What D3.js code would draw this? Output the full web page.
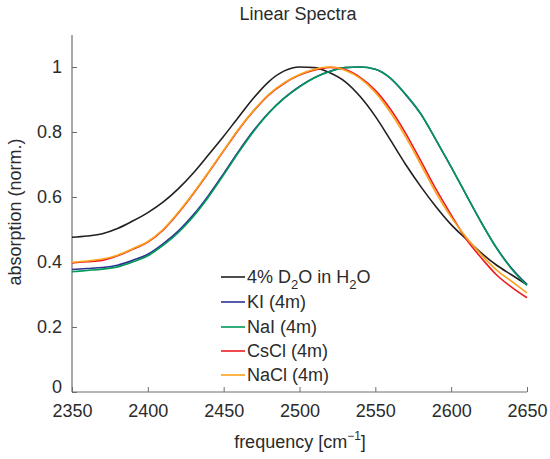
<!DOCTYPE html>
<html>
<head>
<meta charset="utf-8">
<script src="https://cdn.jsdelivr.net/npm/d3@7"></script>
<style>
  body { margin: 0; background: #fff; }
  svg { font-family: "Liberation Sans", Arial, Helvetica, sans-serif; }
</style>
</head>
<body>
<div id="chart"></div>
<script>
var freq = [2350, 2360, 2370, 2380, 2390, 2400, 2410, 2420, 2430, 2440, 2450,
  2460, 2470, 2480, 2490, 2500, 2510, 2520, 2530, 2540, 2550,
  2560, 2570, 2580, 2590, 2600, 2610, 2620, 2630, 2640, 2650];

var water = [0.476, 0.480, 0.487, 0.503, 0.526, 0.552, 0.584, 0.625, 0.674, 0.730, 0.787,
  0.847, 0.906, 0.956, 0.988, 1.000, 0.998, 0.982, 0.955, 0.909, 0.848,
  0.775, 0.700, 0.632, 0.570, 0.515, 0.470, 0.427, 0.390, 0.360, 0.330];
var ki = [0.377, 0.380, 0.383, 0.390, 0.405, 0.424, 0.456, 0.495, 0.545, 0.605, 0.672,
  0.742, 0.806, 0.861, 0.905, 0.940, 0.968, 0.987, 0.998, 1.000, 0.993,
  0.965, 0.915, 0.855, 0.775, 0.692, 0.606, 0.521, 0.443, 0.380, 0.331];
var nai = [0.370, 0.374, 0.378, 0.385, 0.400, 0.419, 0.451, 0.490, 0.540, 0.600, 0.668,
  0.738, 0.803, 0.859, 0.904, 0.939, 0.967, 0.986, 0.998, 1.000, 0.993,
  0.966, 0.916, 0.856, 0.776, 0.693, 0.606, 0.520, 0.442, 0.378, 0.328];
var cscl = [0.397, 0.401, 0.405, 0.419, 0.439, 0.461, 0.498, 0.550, 0.610, 0.675, 0.742,
  0.808, 0.866, 0.915, 0.950, 0.975, 0.991, 0.999, 0.992, 0.968, 0.928,
  0.870, 0.796, 0.711, 0.624, 0.545, 0.470, 0.412, 0.360, 0.322, 0.290];
var nacl = [0.399, 0.403, 0.409, 0.421, 0.441, 0.463, 0.500, 0.552, 0.612, 0.677, 0.744,
  0.810, 0.868, 0.917, 0.952, 0.977, 0.993, 1.000, 0.990, 0.965, 0.922,
  0.860, 0.785, 0.700, 0.613, 0.538, 0.475, 0.422, 0.375, 0.340, 0.305];

var xTicks = [2350, 2400, 2450, 2500, 2550, 2600, 2650];
var yTicks = [0, 0.2, 0.4, 0.6, 0.8, 1];

var series = [
  {name: "water", values: water, color: "#231f20"},
  {name: "KI (4m)", values: ki, color: "#2e3192"},
  {name: "NaI (4m)", values: nai, color: "#009a5a"},
  {name: "CsCl (4m)", values: cscl, color: "#ed1c24"},
  {name: "NaCl (4m)", values: nacl, color: "#faa21b"}
];

var width = 550, height = 459;
var margin = {left: 72, right: 23, top: 35, bottom: 67};
var fs = "18px", txt = "#2b2b2b", axisCol = "#6d6e71";

var x = d3.scaleLinear().domain([2350, 2650]).range([margin.left, width - margin.right]);
var y = d3.scaleLinear().domain([0, 1]).range([height - margin.bottom, 67]);

var svg = d3.select("#chart").append("svg")
  .attr("width", width)
  .attr("height", height);

// title
svg.append("text")
  .attr("x", 298).attr("y", 20)
  .attr("text-anchor", "middle")
  .style("font-size", fs)
  .style("fill", txt)
  .text("Linear Spectra");

// axes
var xAxis = svg.append("g")
  .attr("transform", "translate(0," + y(0) + ")")
  .call(d3.axisBottom(x).tickValues(xTicks).tickSize(-5).tickPadding(12).tickFormat(d3.format("d")));
var yAxis = svg.append("g")
  .attr("transform", "translate(" + x(2350) + ",0)")
  .call(d3.axisLeft(y).tickValues(yTicks).tickSize(-5).tickPadding(10).tickFormat(function(d) { return d3.format("")(d); }));

[xAxis, yAxis].forEach(function(a) {
  a.select(".domain").remove();
  a.selectAll("line").attr("stroke", axisCol);
  a.selectAll("text").style("font-size", fs).style("fill", txt);
});
// the "0" sits a little above the x axis so it clears 2350
yAxis.selectAll(".tick text").filter(function(d) { return d == 0; }).attr("dy", "0.05em");

// axis lines
svg.append("line")
  .attr("x1", x(2350)).attr("x2", x(2650))
  .attr("y1", y(0)).attr("y2", y(0))
  .attr("stroke", axisCol).attr("stroke-width", 1.2);
svg.append("line")
  .attr("x1", x(2350)).attr("x2", x(2350))
  .attr("y1", y(0)).attr("y2", margin.top)
  .attr("stroke", axisCol).attr("stroke-width", 1.2);

// axis labels
var xl = svg.append("text")
  .attr("x", 300).attr("y", 448)
  .attr("text-anchor", "middle")
  .style("font-size", fs).style("fill", txt);
xl.append("tspan").text("frequency [cm");
xl.append("tspan").attr("dy", -8).style("font-size", "12px").text("\u22121");
xl.append("tspan").attr("dy", 8).text("]");

svg.append("text")
  .attr("transform", "translate(21," + 212 + ") rotate(-90)")
  .attr("text-anchor", "middle")
  .style("font-size", fs).style("fill", txt)
  .text("absorption (norm.)");

// curves
var line = d3.line()
  .x(function(d, i) { return x(freq[i]); })
  .y(function(d) { return y(d); })
  .curve(d3.curveMonotoneX);

svg.selectAll("path.curve")
  .data(series)
  .enter().append("path")
  .attr("class", "curve")
  .attr("fill", "none")
  .attr("stroke", function(d) { return d.color; })
  .attr("stroke-width", 1.6)
  .attr("d", function(d) { return line(d.values); });

// legend
var legY = [277, 302, 327, 351, 375];
var leg = svg.selectAll("g.leg")
  .data(series)
  .enter().append("g")
  .attr("class", "leg")
  .attr("transform", function(d, i) { return "translate(221," + legY[i] + ")"; });

leg.append("line")
  .attr("x1", 0).attr("x2", 24)
  .attr("stroke", function(d) { return d.color; })
  .attr("stroke-width", 1.6);

leg.each(function(d, i) {
  var t = d3.select(this).append("text")
    .attr("x", 26).attr("y", 6)
    .style("font-size", fs).style("fill", txt);
  if (i == 0) {
    t.append("tspan").text("4% D");
    t.append("tspan").attr("dy", 6).style("font-size", "13px").text("2");
    t.append("tspan").attr("dy", -6).text("O in H");
    t.append("tspan").attr("dy", 6).style("font-size", "13px").text("2");
    t.append("tspan").attr("dy", -6).text("O");
  } else {
    t.text(d.name);
  }
});
</script>
</body>
</html>
